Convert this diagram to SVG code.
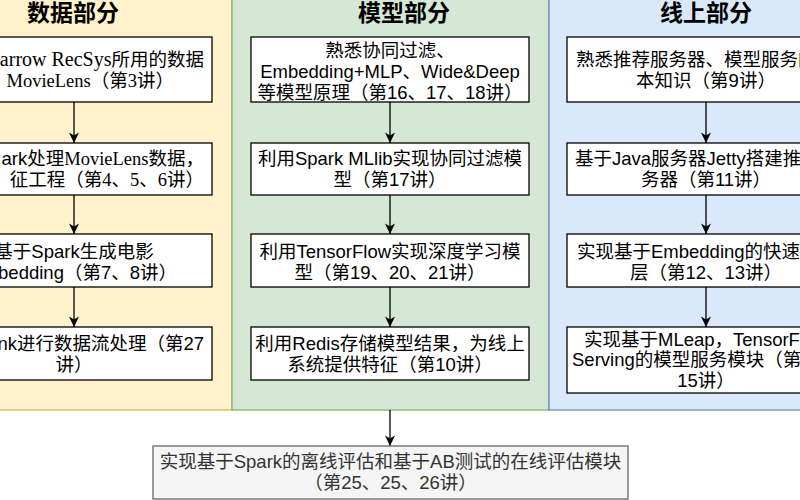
<svg xmlns="http://www.w3.org/2000/svg" width="800" height="500" viewBox="0 0 800 500">
<defs>
<style>
.col-title{font-family:"Liberation Sans","Noto Sans CJK SC",sans-serif;font-size:23px;font-weight:bold;text-anchor:middle;fill:#000}
.box{fill:#fff;stroke:#000;stroke-width:1.3}
.t{font-family:"Liberation Sans","Noto Sans CJK SC",sans-serif;font-size:18.5px;fill:#000;text-anchor:middle}
.serif{font-family:"Liberation Serif","Noto Sans CJK SC",serif}
.end{text-anchor:end}
.start{text-anchor:start}
.edge{stroke:#000;stroke-width:1.3;fill:none;marker-end:url(#arr)}
</style>
<marker id="arr" markerUnits="userSpaceOnUse" markerWidth="12" markerHeight="12" viewBox="0 0 12 12" refX="11" refY="6" orient="auto">
<path d="M0.5,1 L11,6 L0.5,11 L3.5,6 z" fill="#000"/>
</marker>
</defs>
<rect width="800" height="500" fill="#fff"/>

<g id="col-data">
<rect x="-100" y="-20" width="332" height="430" fill="#fff2cc" stroke="#d6b656" stroke-width="1.3"/>
<text class="col-title" x="73" y="20.5">数据部分</text>
</g>
<g id="col-model">
<rect x="232" y="-20" width="317" height="430" fill="#d5e8d4" stroke="#82b366" stroke-width="1.3"/>
<text class="col-title" x="404" y="20.5">模型部分</text>
</g>
<g id="col-online">
<rect x="549" y="-20" width="300" height="430" fill="#dae8fc" stroke="#6c8ebf" stroke-width="1.3"/>
<text class="col-title" x="706" y="20.5">线上部分</text>
</g>

<g id="connectors">
<line class="edge" x1="74" y1="102" x2="74" y2="143"/>
<line class="edge" x1="74" y1="195" x2="74" y2="234"/>
<line class="edge" x1="74" y1="287" x2="74" y2="327"/>
<line class="edge" x1="390" y1="102" x2="390" y2="143"/>
<line class="edge" x1="390" y1="195" x2="390" y2="234"/>
<line class="edge" x1="390" y1="287" x2="390" y2="327"/>
<line class="edge" x1="706" y1="102" x2="706" y2="143"/>
<line class="edge" x1="706" y1="195" x2="706" y2="234"/>
<line class="edge" x1="706" y1="287" x2="706" y2="327"/>
<line class="edge" x1="390" y1="410" x2="390" y2="446"/>
</g>

<g id="d1">
<rect class="box" x="-66" y="37" width="278" height="65"/>
<text class="t serif end" x="204" y="66"><tspan style="font-size:20px">arrow RecSys</tspan>所用的数据</text>
<text class="t serif end" x="174" y="87">MovieLens（第3讲）</text>
</g>
<g id="d2">
<rect class="box" x="-66" y="143" width="278" height="52"/>
<text class="t end" x="204" y="165">ark处理<tspan class="serif">MovieLens数据，</tspan></text>
<text class="t serif end" x="204" y="186">征工程（第4、5、6讲）</text>
</g>
<g id="d3">
<rect class="box" x="-66" y="234" width="278" height="53"/>
<text class="t" x="74" y="258">基于Spark生成电影</text>
<text class="t end" x="177" y="279">bedding（第7、8讲）</text>
</g>
<g id="d4">
<rect class="box" x="-66" y="327" width="278" height="53"/>
<text class="t end" x="204" y="350">nk进行数据流处理（第27</text>
<text class="t" x="74" y="371">讲）</text>
</g>

<g id="m1">
<rect class="box" x="251" y="37" width="278" height="65"/>
<text class="t" x="390" y="57">熟悉协同过滤、</text>
<text class="t" x="390" y="78">Embedding+MLP、Wide&amp;Deep</text>
<text class="t" x="390" y="99">等模型原理（第16、17、18讲）</text>
</g>
<g id="m2">
<rect class="box" x="251" y="143" width="278" height="52"/>
<text class="t" x="390" y="165">利用Spark MLlib实现协同过滤模</text>
<text class="t" x="390" y="186">型（第17讲）</text>
</g>
<g id="m3">
<rect class="box" x="251" y="234" width="278" height="53"/>
<text class="t" x="390" y="258">利用TensorFlow实现深度学习模</text>
<text class="t" x="390" y="279">型（第19、20、21讲）</text>
</g>
<g id="m4">
<rect class="box" x="251" y="327" width="278" height="53"/>
<text class="t" x="390" y="350">利用Redis存储模型结果，为线上</text>
<text class="t" x="390" y="371">系统提供特征（第10讲）</text>
</g>

<g id="o1">
<rect class="box" x="567" y="37" width="278" height="65"/>
<text class="t start" x="576" y="66">熟悉推荐服务器、模型服务的</text>
<text class="t" x="706" y="87">本知识（第9讲）</text>
</g>
<g id="o2">
<rect class="box" x="567" y="143" width="278" height="52"/>
<text class="t start" x="575" y="165">基于Java服务器Jetty搭建推</text>
<text class="t" x="706" y="186">务器（第11讲）</text>
</g>
<g id="o3">
<rect class="box" x="567" y="234" width="278" height="53"/>
<text class="t start" x="577" y="258">实现基于Embedding的快速</text>
<text class="t" x="706" y="279">层（第12、13讲）</text>
</g>
<g id="o4">
<rect class="box" x="567" y="327" width="278" height="66"/>
<text class="t start" x="584" y="346">实现基于MLeap，TensorFl</text>
<text class="t start" x="572" y="366">Serving的模型服务模块（第</text>
<text class="t" x="706" y="387">15讲）</text>
</g>

<g id="eval">
<rect x="153" y="446" width="475" height="53" fill="#f5f5f5" stroke="#666" stroke-width="1.3"/>
<text class="t" x="390.5" y="468" style="fill:#333">实现基于Spark的离线评估和基于AB测试的在线评估模块</text>
<text class="t" x="390.5" y="489" style="fill:#333">（第25、25、26讲）</text>
</g>
</svg>
